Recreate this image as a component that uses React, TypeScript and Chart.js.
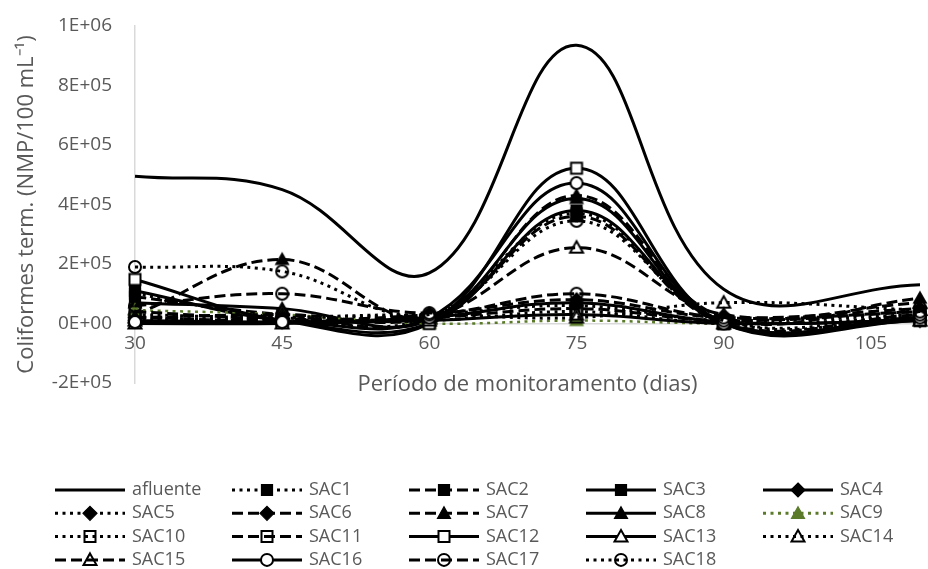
import React, { useEffect, useRef } from "react";
import { Chart, registerables } from "chart.js";

Chart.register(...registerables);

// ---------------- data ----------------
const DAYS = [30, 45, 60, 75, 90, 110];
const X_TICKS = [30, 45, 60, 75, 90, 105];

const afluente = [495000, 450000, 170000, 935000, 115000, 130000];
const sac1 = [100000, 20000, 20000, 370000, 10000, 20000];
const sac2 = [90000, 30000, 10000, 360000, 0, 30000];
const sac3 = [110000, 10000, 0, 380000, 0, 10000];
const sac4 = [10000, 5000, 20000, 70000, 5000, 10000];
const sac5 = [30000, 20000, 30000, 60000, 10000, 30000];
const sac6 = [20000, 10000, 30000, 80000, 20000, 50000];
const sac7 = [30000, 215000, 20000, 430000, 20000, 85000];
const sac8 = [70000, 50000, 10000, 420000, 0, 20000];
const sac9 = [45000, 30000, 0, 10000, 0, 10000];
const sac10 = [20000, 10000, 10000, 40000, 0, 20000];
const sac11 = [40000, 15000, 20000, 50000, 10000, 40000];
const sac12 = [148000, 10000, 0, 522000, 0, 10000];
const sac13 = [0, 0, 10000, 30000, 0, 10000];
const sac14 = [10000, 20000, 30000, 20000, 70000, 45000];
const sac15 = [20000, 30000, 20000, 255000, 30000, 70000];
const sac16 = [5000, 5000, 20000, 472000, 0, 20000];
const sac17 = [60000, 100000, 35000, 100000, 20000, 40000];
const sac18 = [190000, 175000, 30000, 345000, 10000, 30000];

const SERIES_NAMES = [
  "afluente", "SAC1", "SAC2", "SAC3", "SAC4", "SAC5", "SAC6", "SAC7", "SAC8", "SAC9",
  "SAC10", "SAC11", "SAC12", "SAC13", "SAC14", "SAC15", "SAC16", "SAC17", "SAC18",
];
const SERIES_VALUES = [
  afluente, sac1, sac2, sac3, sac4, sac5, sac6, sac7, sac8, sac9,
  sac10, sac11, sac12, sac13, sac14, sac15, sac16, sac17, sac18,
];

// ---------------- styles ----------------
const BLACK = "#000000";
const GREEN = "#5B7B2B";
const TEXT = "#595959";
const AXIS = "#D9D9D9";
const FONT = '"Open Sans", sans-serif';

type Marker = { shape: string; fill: string } | null;
type Style = { dash: string; marker: Marker; color?: string };

const STYLES: Style[] = [
  { dash: "solid", marker: null },
  { dash: "dot", marker: { shape: "square", fill: "solid" } },
  { dash: "dash", marker: { shape: "square", fill: "solid" } },
  { dash: "solid", marker: { shape: "square", fill: "solid" } },
  { dash: "solid", marker: { shape: "diamond", fill: "solid" } },
  { dash: "dot", marker: { shape: "diamond", fill: "solid" } },
  { dash: "dash", marker: { shape: "diamond", fill: "solid" } },
  { dash: "dash", marker: { shape: "triangle", fill: "solid" } },
  { dash: "solid", marker: { shape: "triangle", fill: "solid" } },
  { dash: "dot", marker: { shape: "triangle", fill: "solid" }, color: GREEN },
  { dash: "dot", marker: { shape: "square", fill: "none" } },
  { dash: "dash", marker: { shape: "square", fill: "none" } },
  { dash: "solid", marker: { shape: "square", fill: "white" } },
  { dash: "solid", marker: { shape: "triangle", fill: "white" } },
  { dash: "dot", marker: { shape: "triangle", fill: "none" } },
  { dash: "dash", marker: { shape: "triangle", fill: "none" } },
  { dash: "solid", marker: { shape: "circle", fill: "white" } },
  { dash: "dash", marker: { shape: "circle", fill: "none" } },
  { dash: "dot", marker: { shape: "circle", fill: "none" } },
];

function dashFor(d: string): number[] {
  if (d === "dash") return [11, 5];
  if (d === "dot") return [3, 4.5];
  return [];
}

function drawMarker(g: CanvasRenderingContext2D, m: Marker, cx: number, cy: number, color: string) {
  if (!m) return;
  g.save();
  g.setLineDash([]);
  g.beginPath();
  if (m.shape === "square") {
    g.rect(cx - 5.5, cy - 5.5, 11, 11);
  } else if (m.shape === "diamond") {
    const r = 7;
    g.moveTo(cx, cy - r);
    g.lineTo(cx + r, cy);
    g.lineTo(cx, cy + r);
    g.lineTo(cx - r, cy);
    g.closePath();
  } else if (m.shape === "triangle") {
    g.moveTo(cx, cy - 6.5);
    g.lineTo(cx + 6.5, cy + 5);
    g.lineTo(cx - 6.5, cy + 5);
    g.closePath();
  } else {
    g.arc(cx, cy, 6, 0, Math.PI * 2);
  }
  g.strokeStyle = color;
  if (m.fill === "solid") {
    g.fillStyle = color;
    g.fill();
    g.lineWidth = 1.2;
    g.stroke();
  } else {
    if (m.fill === "white") {
      g.fillStyle = "#ffffff";
      g.fill();
    }
    g.lineWidth = 2;
    g.stroke();
  }
  g.restore();
}

function markerCanvas(m: Marker, color: string): HTMLCanvasElement {
  const c = document.createElement("canvas");
  c.width = 20;
  c.height = 20;
  const g = c.getContext("2d")!;
  drawMarker(g, m, 10, 10, color);
  return c;
}

function sci(v: number): string {
  if (v === 0) return "0E+00";
  const e = Math.floor(Math.log10(Math.abs(v)) + 1e-9);
  const m = Math.round(v / Math.pow(10, e));
  return `${m}E${e < 0 ? "-" : "+"}${String(Math.abs(e)).padStart(2, "0")}`;
}

const gridLegend = {
  id: "gridLegend",
  afterDraw(chart: any) {
    const ctx: CanvasRenderingContext2D = chart.ctx;
    ctx.save();
    SERIES_NAMES.forEach((name, i) => {
      const st = STYLES[i];
      const color = st.color || BLACK;
      const col = i % 5;
      const row = Math.floor(i / 5);
      const x0 = 55 + col * 177;
      const y = 490 + row * 23.3;
      ctx.beginPath();
      ctx.setLineDash(dashFor(st.dash));
      ctx.lineWidth = 3;
      ctx.lineCap = "butt";
      ctx.strokeStyle = color;
      ctx.moveTo(x0, y);
      ctx.lineTo(x0 + 70, y);
      ctx.stroke();
      ctx.setLineDash([]);
      drawMarker(ctx, st.marker, x0 + 35, y, color);
      ctx.fillStyle = TEXT;
      ctx.font = `18px ${FONT}`;
      ctx.textBaseline = "middle";
      ctx.textAlign = "left";
      ctx.fillText(name, x0 + 77, y);
    });
    ctx.restore();
  },
};

export default function App() {
  const ref = useRef<HTMLCanvasElement | null>(null);

  useEffect(() => {
    document.body.style.margin = "0";
    const canvas = ref.current;
    if (!canvas) return;

    const datasets = SERIES_NAMES.map((name, i) => {
      const st = STYLES[i];
      const color = st.color || BLACK;
      return {
        label: name,
        data: DAYS.map((x, j) => ({ x, y: SERIES_VALUES[i][j] })),
        borderColor: color,
        backgroundColor: color,
        borderWidth: i === 9 ? 2.5 : 3,
        borderDash: dashFor(st.dash),
        borderCapStyle: "butt",
        borderJoinStyle: "round",
        pointStyle: st.marker ? markerCanvas(st.marker, color) : false,
        pointRadius: st.marker ? 5 : 0,
        tension: 0.4,
        fill: false,
        clip: false,
        order: SERIES_NAMES.length - i,
      };
    });

    const chart = new Chart(canvas, {
      type: "line",
      data: { datasets } as any,
      options: {
        responsive: false,
        animation: false,
        events: [],
        layout: { padding: { left: 0, right: 7, top: 26, bottom: 186 } },
        plugins: { legend: { display: false }, tooltip: { enabled: false } },
        scales: {
          x: {
            type: "linear",
            min: 30,
            max: 110,
            position: { y: 0 } as any,
            grid: { display: false, drawTicks: false },
            border: { display: true, color: AXIS, width: 1.5 },
            afterBuildTicks: (s: any) => {
              s.ticks = X_TICKS.map((v) => ({ value: v }));
            },
            afterFit: (s: any) => {
              s.height = 75;
              s.paddingLeft = 0;
              s.paddingRight = 0;
            },
            ticks: {
              color: TEXT,
              font: { family: FONT, size: 19 },
              padding: 9,
              maxRotation: 0,
              autoSkip: false,
            },
            title: {
              display: true,
              text: "Período de monitoramento (dias)",
              color: TEXT,
              font: { family: FONT, size: 22 },
              padding: { top: 0, bottom: 1 },
            },
          },
          y: {
            type: "linear",
            min: -200000,
            max: 1000000,
            grid: { display: false, drawTicks: false },
            border: { display: true, color: AXIS, width: 1.5 },
            afterFit: (s: any) => {
              s.width = 135;
              s.paddingTop = 0;
              s.paddingBottom = 0;
            },
            ticks: {
              stepSize: 200000,
              color: TEXT,
              font: { family: FONT, size: 19 },
              padding: 23,
              callback: (v: any) => sci(Number(v)),
            },
            title: {
              display: true,
              text: "Coliformes term. (NMP/100 mL⁻¹)",
              color: TEXT,
              font: { family: FONT, size: 22 },
              padding: { top: 14, bottom: 0 },
            },
          },
        },
      },
      plugins: [gridLegend],
    } as any);

    return () => chart.destroy();
  }, []);

  return (
    <div style={{ width: 928, height: 569 }}>
      <canvas ref={ref} width={928} height={569} style={{ display: "block" }} />
    </div>
  );
}
